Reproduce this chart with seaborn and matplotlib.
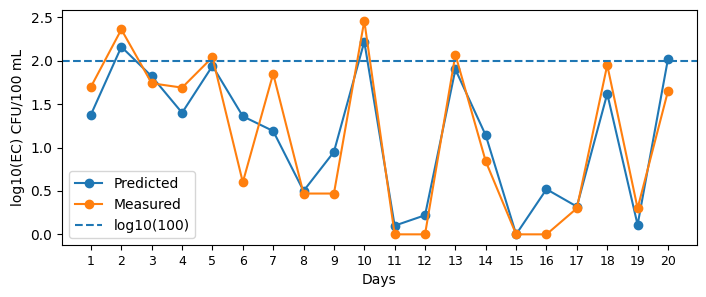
import numpy as np
import pandas as pd
import matplotlib
matplotlib.use("Agg")
import matplotlib.pyplot as plt
import seaborn as sns

days = list(range(1, 21))
predicted = [1.38, 2.16, 1.82, 1.40, 1.94, 1.36, 1.19, 0.50, 0.95, 2.22,
             0.10, 0.22, 1.90, 1.14, 0.00, 0.52, 0.32, 1.62, 0.11, 2.02]
measured = [1.70, 2.36, 1.74, 1.69, 2.04, 0.60, 1.85, 0.47, 0.47, 2.46,
            0.00, 0.00, 2.07, 0.84, 0.00, 0.00, 0.30, 1.95, 0.30, 1.65]
threshold = 2.0  # log10(100)

fig, ax = plt.subplots(figsize=(7.06, 2.97), dpi=100)

# marker 6 + edge 1 in same colour, like plain plt.plot 'o-'
sns.lineplot(x=days, y=predicted, marker="o", markersize=6, markeredgewidth=1,
             markeredgecolor="#1f77b4", color="#1f77b4", label="Predicted", ax=ax)
sns.lineplot(x=days, y=measured, marker="o", markersize=6, markeredgewidth=1,
             markeredgecolor="#ff7f0e", color="#ff7f0e", label="Measured", ax=ax)
ax.axhline(threshold, linestyle="--", color="#1f77b4", label="log10(100)")

ax.set_xticks(days)
ax.tick_params(axis="x", labelsize=9)
ax.set_xlabel("Days")
ax.set_ylabel("log10(EC) CFU/100 mL")
ax.legend(loc="lower left")

fig.subplots_adjust(left=0.088, right=0.987, top=0.966, bottom=0.175)
fig.savefig("out.png", dpi=100)
